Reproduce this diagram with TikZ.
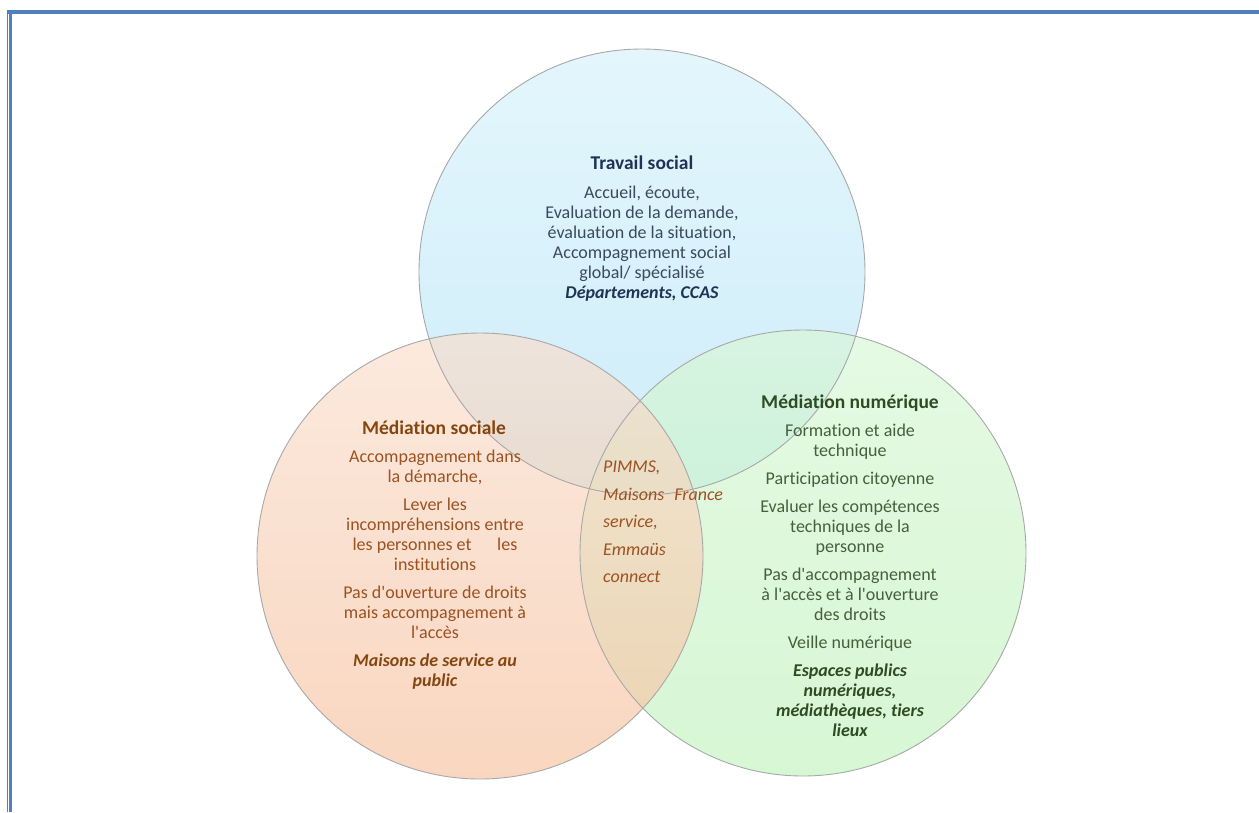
\documentclass[tikz,border=0pt]{standalone}
\usepackage{fontspec}
\setmainfont{Carlito}[Ligatures={NoCommon}]

\definecolor{frameblue}{HTML}{4F81BD}
\definecolor{rimgray}{HTML}{A8A8A8}
% fills of the three sets (top / bottom of each gradient)
\definecolor{blueTop}{RGB}{213,241,250}
\definecolor{blueBot}{RGB}{178,227,247}
\definecolor{peachTop}{RGB}{250,222,204}
\definecolor{peachBot}{RGB}{246,192,158}
\definecolor{greenTop}{RGB}{216,247,213}
\definecolor{greenBot}{RGB}{192,242,189}
% text colours
\definecolor{navyHead}{HTML}{1F3354}
\definecolor{navyText}{HTML}{3A4A5C}
\definecolor{brownHead}{HTML}{86460F}
\definecolor{brownText}{HTML}{9C5221}
\definecolor{greenHead}{HTML}{2F4B23}
\definecolor{greenText}{HTML}{44603A}

% bold italic used for the example structures
\newcommand\keyplacesfont{\bfseries\itshape}
% straight apostrophe
\newcommand\apos{\textquotesingle}

\begin{document}
\begin{tikzpicture}[x=1pt,y=-1pt,
  setdisc/.style={circle, inner sep=0pt, outer sep=0pt, minimum size=446pt, fill opacity=0.65},
  rim/.style={draw=rimgray, line width=0.9pt},
  heading/.style={inner sep=0pt, font=\fontsize{19.5}{22}\selectfont\bfseries},
  bodytext/.style={inner sep=0pt, align=center, font=\fontsize{18}{20}\selectfont}
]
\path[use as bounding box] (0,0) rectangle (1259,812);

% page frame
\draw[frameblue, line width=4pt] (7,12) -- (1259,12);
\draw[frameblue, line width=1.4pt] (7.6,10) -- (7.6,812);
\draw[frameblue, line width=2.4pt] (10.6,14) -- (10.6,812);

% the three sets
\node[setdisc, shade, top color=blueTop, bottom color=blueBot] (travail) at (642,272) {};
\node[setdisc, shade, top color=greenTop, bottom color=greenBot] (numerique) at (803,553) {};
\node[setdisc, shade, top color=peachTop, bottom color=peachBot] (sociale) at (480,556) {};

\draw[rim] (travail.center) circle[radius=223];
\draw[rim] (numerique.center) circle[radius=223];
\draw[rim] (sociale.center) circle[radius=223];

% Travail social
\node[heading, text=navyHead, anchor=base] (ts-head) at (642,169) {Travail social};
\node[bodytext, text=navyText, anchor=north] (ts-body) at (642,186)
  {Accueil, écoute,\\
   Evaluation de la demande,\\
   évaluation de la situation,\\
   Accompagnement social\\
   global/ spécialisé\\
   {\keyplacesfont\color{navyHead}Départements, CCAS}};

% Médiation sociale
\node[heading, text=brownHead, anchor=base] (ms-head) at (434,434) {Médiation sociale};
\node[bodytext, text=brownText, anchor=north] (ms-body) at (435,450)
  {Accompagnement dans\\
   la démarche,\\[8pt]
   Lever les\\
   incompréhensions entre\\
   les personnes et\hspace{1.2em} les\\
   institutions\\[8pt]
   Pas d\apos ouverture de droits\\
   mais accompagnement à\\
   l\apos accès\\[8pt]
   {\keyplacesfont\color{brownHead}Maisons de service au}\\
   {\keyplacesfont\color{brownHead}public}};

% Médiation numérique
\node[heading, text=greenHead, anchor=base] (mn-head) at (850,408) {Médiation numérique};
\node[bodytext, text=greenText, anchor=north] (mn-body) at (850,424)
  {Formation et aide\\
   technique\\[8pt]
   Participation citoyenne\\[8pt]
   Evaluer les compétences\\
   techniques de la\\
   personne\\[8pt]
   Pas d\apos accompagnement\\
   à l\apos accès et à l\apos ouverture\\
   des droits\\[8pt]
   Veille numérique\\[8pt]
   {\keyplacesfont\color{greenHead}Espaces publics}\\
   {\keyplacesfont\color{greenHead}numériques,}\\
   {\keyplacesfont\color{greenHead}médiathèques, tiers}\\
   {\keyplacesfont\color{greenHead}lieux}};

% shared structures
\node[inner sep=0pt, align=left, anchor=north west, text=brownText,
      font=\fontsize{18}{27.5}\selectfont\itshape] (shared) at (603,461)
  {PIMMS,\\
   Maisons\hspace{0.55em}France\\
   service,\\
   Emmaüs\\
   connect};
\end{tikzpicture}
\end{document}
